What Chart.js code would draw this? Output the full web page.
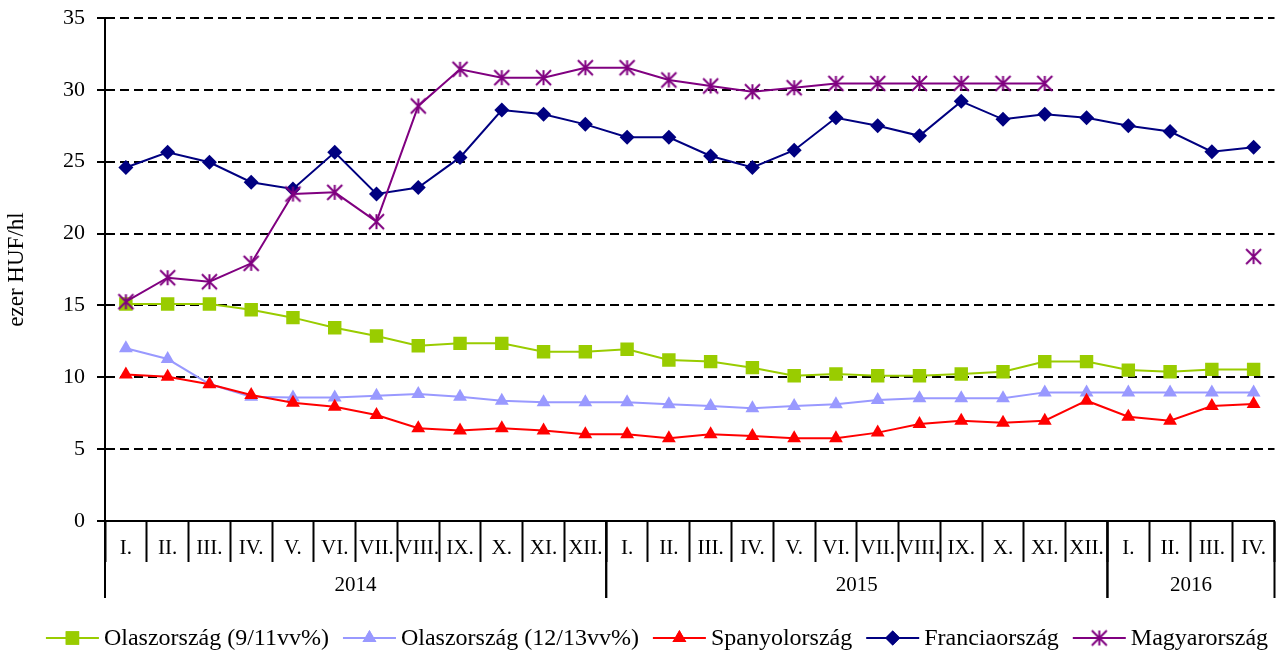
<!DOCTYPE html>
<html>
<head>
<meta charset="utf-8">
<script src="https://cdn.jsdelivr.net/npm/chart.js@4/dist/chart.umd.min.js"></script>
<style>
  html, body { margin: 0; padding: 0; background: #fff; }
  #wrap { width: 1284px; height: 655px; }
</style>
</head>
<body>
<div id="wrap"><canvas id="chart"></canvas></div>
<script>
const monthLabels = [
  'I.', 'II.', 'III.', 'IV.', 'V.', 'VI.', 'VII.', 'VIII.', 'IX.', 'X.', 'XI.', 'XII.',
  'I.', 'II.', 'III.', 'IV.', 'V.', 'VI.', 'VII.', 'VIII.', 'IX.', 'X.', 'XI.', 'XII.',
  'I.', 'II.', 'III.', 'IV.'
];
const years = ['2014', '2015', '2016'];
const monthsPerYear = [12, 12, 4];

const olaszLow = [
  15.1, 15.1, 15.1, 14.7, 14.15, 13.45, 12.87, 12.2, 12.36, 12.36, 11.78, 11.78,
  11.95, 11.2, 11.09, 10.67, 10.11, 10.23, 10.11, 10.11, 10.23, 10.39, 11.09, 11.09,
  10.5, 10.39, 10.55, 10.55
];
const olaszHigh = [
  12.02, 11.27, 9.53, 8.65, 8.6, 8.6, 8.72, 8.84, 8.65, 8.37, 8.26, 8.26,
  8.26, 8.12, 8.0, 7.84, 8.0, 8.12, 8.42, 8.54, 8.54, 8.54, 8.95, 8.95,
  8.95, 8.95, 8.95, 8.95
];
const spanyol = [
  10.2, 10.04, 9.51, 8.77, 8.23, 7.95, 7.38, 6.45, 6.29, 6.45, 6.29, 6.03,
  6.03, 5.75, 6.03, 5.91, 5.75, 5.75, 6.15, 6.75, 6.98, 6.84, 6.98, 8.37,
  7.26, 6.98, 8.0, 8.14
];
const francia = [
  24.6, 25.65, 24.96, 23.57, 23.1, 25.65, 22.75, 23.2, 25.3, 28.6, 28.3, 27.6,
  26.7, 26.7, 25.4, 24.6, 25.8, 28.06, 27.5, 26.8, 29.2, 27.95, 28.3, 28.06,
  27.5, 27.1, 25.7, 26.0
];
const magyar = [
  15.26, 16.93, 16.65, 17.93, 22.75, 22.87, 20.83, 28.88, 31.43, 30.85, 30.85, 31.54,
  31.54, 30.69, 30.27, 29.87, 30.15, 30.45, 30.45, 30.45, 30.45, 30.45, 30.45, null,
  null, null, null, 18.4
];

const seriesNames = [
  'Olaszország (9/11vv%)', 'Olaszország (12/13vv%)', 'Spanyolország', 'Franciaország', 'Magyarország'
];
const yTitle = 'ezer HUF/hl';

const FONT = "'Liberation Serif', 'Times New Roman', serif";

// Excel style asterisk marker: vertical bar plus an X
const makeStar = (color, r) => {
  const c = document.createElement('canvas');
  const s = r * 2 + 4;
  c.width = s;
  c.height = s;
  const g = c.getContext('2d');
  const m = s / 2;
  g.strokeStyle = color;
  g.lineWidth = 2;
  g.beginPath();
  g.moveTo(m, m - r); g.lineTo(m, m + r);
  g.moveTo(m - r, m - r); g.lineTo(m + r, m + r);
  g.moveTo(m + r, m - r); g.lineTo(m - r, m + r);
  g.stroke();
  return c;
};
const starImg = makeStar('#800080', 7.5);

const mkSet = (label, data, color, style, radius, order) => ({
  label,
  data,
  borderColor: color,
  backgroundColor: color,
  borderWidth: 2,
  pointStyle: style,
  pointRadius: radius,
  pointHoverRadius: radius,
  pointBorderWidth: 0,
  pointBackgroundColor: color,
  pointBorderColor: color,
  tension: 0,
  spanGaps: false,
  order,
});

const datasets = [
  mkSet(seriesNames[0], olaszLow, '#99CC00', 'rect', 9.5, 5),
  mkSet(seriesNames[1], olaszHigh, '#9999FF', 'triangle', 8, 4),
  mkSet(seriesNames[2], spanyol, '#FF0000', 'triangle', 8, 3),
  mkSet(seriesNames[3], francia, '#000080', 'rectRot', 7.5, 2),
  mkSet(seriesNames[4], magyar, '#800080', starImg, 7, 1),
];

// year row under the month labels + bottom legend
const extrasPlugin = {
  id: 'extras',
  afterDraw: (chart) => {
    const ctx = chart.ctx;
    const xs = chart.scales.x;
    const top = chart.chartArea.bottom;
    const bottom = top + 77;

    const edge = (i) => {
      if (i <= 0) return xs.left;
      if (i >= monthLabels.length) return xs.right;
      return (xs.getPixelForValue(i - 1) + xs.getPixelForValue(i)) / 2;
    };

    ctx.save();
    ctx.strokeStyle = '#000';
    ctx.lineWidth = 2;
    ctx.fillStyle = '#000';
    ctx.font = '21px ' + FONT;
    ctx.textAlign = 'center';
    ctx.textBaseline = 'alphabetic';
    let start = 0;
    years.forEach((yr, k) => {
      const end = start + monthsPerYear[k];
      const x0 = edge(start);
      const x1 = edge(end);
      ctx.beginPath();
      ctx.moveTo(x0, top);
      ctx.lineTo(x0, bottom);
      ctx.moveTo(x1, top);
      ctx.lineTo(x1, bottom);
      ctx.stroke();
      ctx.fillText(yr, (x0 + x1) / 2, top + 70);
      start = end;
    });

    // legend
    ctx.font = '24px ' + FONT;
    ctx.textAlign = 'left';
    const symW = 53;
    const gap = 5;
    const itemGap = 14;
    const widths = datasets.map(d => ctx.measureText(d.label).width);
    const total = widths.reduce((s, w) => s + symW + gap + w, 0) + itemGap * (datasets.length - 1);
    let x = 657 - total / 2;
    const ly = 638;
    datasets.forEach((d, i) => {
      ctx.strokeStyle = d.borderColor;
      ctx.lineWidth = 2;
      ctx.beginPath();
      ctx.moveTo(x, ly);
      ctx.lineTo(x + symW, ly);
      ctx.stroke();
      const cx = x + symW / 2;
      if (typeof d.pointStyle === 'string') {
        ctx.fillStyle = d.borderColor;
        Chart.helpers.drawPoint(ctx, {
          pointStyle: d.pointStyle,
          radius: d.pointRadius,
          borderWidth: 0,
          rotation: 0,
        }, cx, ly);
        ctx.fill();
      } else {
        ctx.drawImage(d.pointStyle, cx - d.pointStyle.width / 2, ly - d.pointStyle.height / 2);
      }
      ctx.fillStyle = '#000';
      ctx.textBaseline = 'middle';
      ctx.fillText(d.label, x + symW + gap, ly + 1);
      x += symW + gap + widths[i] + itemGap;
    });
    ctx.restore();
  },
};

new Chart(document.getElementById('chart'), {
  type: 'line',
  data: {
    labels: monthLabels,
    datasets,
  },
  options: {
    responsive: true,
    maintainAspectRatio: false,
    animation: false,
    layout: {
      padding: { top: 18, right: 2, bottom: 0, left: 0 },
    },
    plugins: {
      legend: { display: false },
      tooltip: { enabled: false },
    },
    scales: {
      x: {
        type: 'category',
        offset: true,
        afterFit: (scale) => { scale.height = 134; },
        grid: {
          offset: true,
          drawOnChartArea: false,
          drawTicks: true,
          tickLength: 41,
          tickColor: '#000',
          tickWidth: 2,
          tickBorderDash: [],
        },
        border: { display: true, color: '#000', width: 2 },
        ticks: {
          autoSkip: false,
          maxRotation: 0,
          minRotation: 0,
          padding: -26,
          color: '#000',
          font: { family: FONT, size: 21 },
        },
      },
      y: {
        min: 0,
        max: 35,
        afterFit: (scale) => {
          scale.width = 105;
          scale.paddingTop = 0;
          scale.paddingBottom = 0;
        },
        ticks: {
          stepSize: 5,
          padding: 12,
          color: '#000',
          font: { family: FONT, size: 22 },
        },
        grid: {
          color: '#000',
          lineWidth: 2,
          drawTicks: true,
          tickLength: 8,
          tickColor: '#000',
          tickWidth: 2,
          tickBorderDash: [],
        },
        border: { display: true, color: '#000', width: 2, dash: [9, 5] },
        title: {
          display: true,
          text: yTitle,
          color: '#000',
          font: { family: FONT, size: 23 },
          padding: { top: 3, bottom: 0 },
        },
      },
    },
  },
  plugins: [extrasPlugin],
});
</script>
</body>
</html>
